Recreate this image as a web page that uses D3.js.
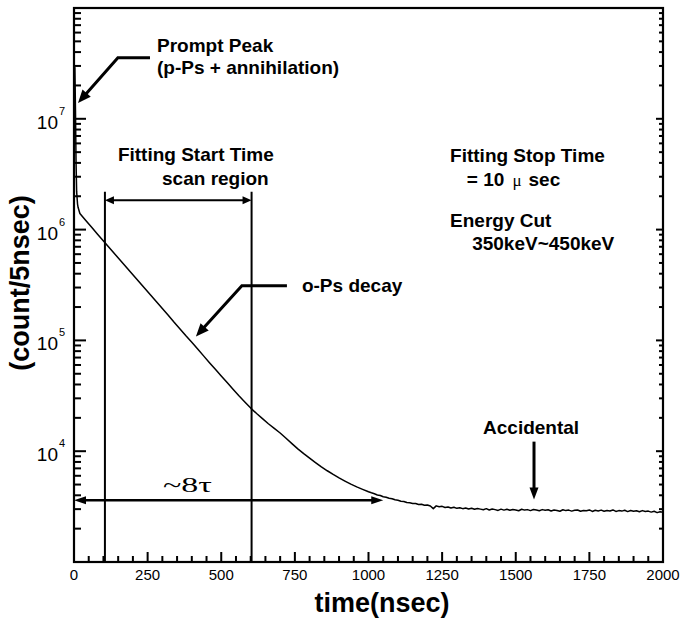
<!DOCTYPE html>
<html>
<head>
<meta charset="utf-8">
<script src="https://cdn.jsdelivr.net/npm/d3@7"></script>
<style>
  body { margin: 0; background: #fff; }
  svg { display: block; font-family: "Liberation Sans", Arial, Helvetica, sans-serif; }
</style>
</head>
<body>
<div id="chart"></div>
<script>
// prompt peak (time ns, count/5nsec)
var promptTimes = [0, 1, 3, 5, 7, 9, 12, 14];
var promptCounts = [1.5e6, 8e6, 2.9e7, 1.2e7, 4e6, 2.2e6, 1.7e6, 1.58e6];

// o-Ps decay, one reading every 20 ns from 20 to 980 ns
var decayStart = 20, decayStep = 20;
var decayCounts = [
  1400000, 1210000, 1050000, 910000, 790000, 685000, 595000, 518000, 450000, 392000,
  340000, 295000, 257000, 223000, 194000, 169000, 146000, 127000, 110000, 96000,
  83500, 72500, 63000, 54800, 47800, 41600, 36200, 31600, 27800, 24500,
  21900, 19700, 17700, 16100, 14600, 13100, 11700, 10500, 9500, 8650,
  7900, 7230, 6660, 6170, 5740, 5370, 5040, 4760, 4520
];

// flattening into the accidental level, one reading every 10 ns from 1000 to 2000 ns
var tailStart = 1000, tailStep = 10;
var tailCounts = [
  4300, 4210, 4130, 4030, 3980, 3880, 3840, 3760, 3720, 3640,
  3610, 3540, 3520, 3440, 3430, 3380, 3370, 3300, 3320, 3250,
  3270, 3200, 3030, 3210, 3150, 3180, 3100, 3140, 3070, 3120,
  3050, 3090, 3030, 3070, 3010, 3060, 2990, 3040, 3000, 2960,
  3030, 2950, 3010, 2970, 2920, 3000, 2940, 2990, 2930, 2980,
  2950, 2900, 2990, 2940, 2970, 2910, 2980, 2950, 2900, 2970,
  2930, 2960, 2890, 2950, 2920, 2870, 2960, 2910, 2940, 2880,
  2930, 2950, 2870, 2920, 2900, 2950, 2860, 2930, 2890, 2940,
  2870, 2920, 2890, 2950, 2860, 2910, 2880, 2930, 2850, 2920,
  2870, 2900, 2840, 2910, 2860, 2880, 2820, 2870, 2790, 2840,
  2810
];

var xTicks = [0, 250, 500, 750, 1000, 1250, 1500, 1750, 2000];
var xMinorTicks = [50, 100, 150, 200, 300, 350, 400, 450, 550, 600, 650, 700, 800, 850, 900, 950,
  1050, 1100, 1150, 1200, 1300, 1350, 1400, 1450, 1550, 1600, 1650, 1700, 1800, 1850, 1900, 1950];
var yLabelTicks = [1e4, 1e5, 1e6, 1e7];

// annotation geometry in data units (ns, counts)
var scanRegion = [105, 603];
var scanLineTop = 2.2e6;
var scanArrowLevel = 1.84e6;
var eightTau = [0, 1050];
var eightTauLevel = 3610;
var promptLeader = [[258, 3.55e7], [149, 3.55e7], [13.6, 1.39e7]];
var decayLeader = [[723, 3.12e5], [570, 3.12e5], [414, 1.085e5]];
var accidentalArrow = [[1562, 1.22e4], [1562, 3660]];

var margin = { top: 8, right: 20, bottom: 58, left: 74 },
    plotW = 683 - margin.left - margin.right,
    plotH = 620 - margin.top - margin.bottom;

var svg = d3.select("#chart").append("svg")
    .attr("width", 683)
    .attr("height", 620);

var g = svg.append("g")
    .attr("transform", `translate(${margin.left},${margin.top})`);

var x = d3.scaleLinear().domain([0, 2000]).range([0, plotW]);
var y = d3.scaleLog().domain([1e3, 1e8]).range([plotH, 0]);

// series
var data = [];
promptTimes.forEach(function (t, i) { data.push([t, promptCounts[i]]); });
decayCounts.forEach(function (v, i) { data.push([decayStart + i * decayStep, v]); });
tailCounts.forEach(function (v, i) { data.push([tailStart + i * tailStep, v]); });

svg.append("defs").append("clipPath").attr("id", "plotclip")
  .append("rect").attr("width", plotW).attr("height", plotH);

xTicks.forEach(function (t) {
  g.append("text")
      .attr("x", x(t))
      .attr("y", plotH + 18)
      .attr("text-anchor", "middle")
      .attr("font-size", 15)
      .text(t);
});

yLabelTicks.forEach(function (v) {
  g.append("text")
      .attr("x", -16)
      .attr("y", y(v) + 10)
      .attr("text-anchor", "end")
      .attr("font-size", 19)
      .text("10");
  g.append("text")
      .attr("x", -15)
      .attr("y", y(v) - 4)
      .attr("font-size", 11)
      .text(Math.round(Math.log10(v)));
});

// the spectrum
var line = d3.line()
    .x(function (d) { return x(d[0]); })
    .y(function (d) { return y(d[1]); });

g.append("path")
    .datum(data)
    .attr("clip-path", "url(#plotclip)")
    .attr("fill", "none")
    .attr("stroke", "#000")
    .attr("stroke-width", 1.5)
    .attr("stroke-linejoin", "round")
    .attr("d", line);

// arrow helpers
function head(p0, p1, len, half) {
  var dx = p1[0] - p0[0], dy = p1[1] - p0[1], d = Math.hypot(dx, dy);
  var ux = dx / d, uy = dy / d;
  var bx = p1[0] - ux * len, by = p1[1] - uy * len;
  g.append("path")
      .attr("d", `M${p1[0]},${p1[1]}L${bx - uy * half},${by + ux * half}L${bx + uy * half},${by - ux * half}Z`)
      .attr("fill", "#000");
  return [bx + ux * 1, by + uy * 1];
}

function arrow(pts, opts) {
  var p = pts.map(function (d) { return [x(d[0]), y(d[1])]; });
  var n = p.length;
  p[n - 1] = head(p[n - 2], p[n - 1], opts.len, opts.half);
  if (opts.both) p[0] = head(p[1], p[0], opts.len, opts.half);
  g.append("path")
      .attr("d", d3.line()(p))
      .attr("fill", "none")
      .attr("stroke", "#000")
      .attr("stroke-width", opts.w)
      .attr("stroke-linejoin", "miter");
}

// scan region
scanRegion.forEach(function (t) {
  g.append("line")
      .attr("x1", x(t)).attr("x2", x(t))
      .attr("y1", y(scanLineTop)).attr("y2", y(1e3))
      .attr("stroke", "#000")
      .attr("stroke-width", 2);
});
arrow([[scanRegion[0], scanArrowLevel], [scanRegion[1], scanArrowLevel]], { len: 9, half: 4, w: 2, both: true });
arrow([[eightTau[0], eightTauLevel], [eightTau[1], eightTauLevel]], { len: 12, half: 4, w: 2.5, both: true });
arrow(promptLeader, { len: 13, half: 5.5, w: 3 });
arrow(decayLeader, { len: 13, half: 5.5, w: 3 });
arrow(accidentalArrow, { len: 12, half: 4.5, w: 3 });

// annotation text
function label(t, v, str, size) {
  return g.append("text")
      .attr("x", x(t))
      .attr("y", y(v))
      .attr("font-size", size || 19)
      .attr("font-weight", "bold")
      .text(str);
}
label(282, 4.02e7, "Prompt Peak");
label(282, 2.55e7, "(p-Ps + annihilation)");
label(149, 4.12e6, "Fitting Start Time");
label(299, 2.55e6, "scan region");
label(774, 2.76e5, "o-Ps decay");
label(1277, 4.04e6, "Fitting Stop Time");
var mu = label(1334, 2.45e6, "= 10");
mu.append("tspan").attr("dx", 8).attr("font-family", "Liberation Serif, Times New Roman, serif").attr("font-weight", "normal").attr("font-size", 17).text("\u03bc");
mu.append("tspan").attr("dx", 7).text("sec");
label(1277, 1.045e6, "Energy Cut");
label(1352, 6.61e5, "350keV~450keV");
label(1389, 1.415e4, "Accidental");

g.append("text")
    .attr("x", x(302))
    .attr("y", y(4240))
    .attr("font-family", "Liberation Serif, Times New Roman, serif")
    .attr("font-size", 22)
    .attr("textLength", 49)
    .attr("lengthAdjust", "spacingAndGlyphs")
    .text("~8\u03c4");

// inward ticks on bottom, left and right
function tickRect(x0, y0, w, h) {
  g.append("rect")
      .attr("x", x0).attr("y", y0)
      .attr("width", w).attr("height", h)
      .attr("fill", "#000");
}
xTicks.forEach(function (t) { tickRect(x(t) - 1, plotH - 10, 2, 10); });
xMinorTicks.forEach(function (t) { tickRect(x(t) - 1, plotH - 6, 2, 6); });
y.ticks().forEach(function (v) {
  var e = Math.log10(v);
  var major = Math.abs(e - Math.round(e)) < 1e-6;
  tickRect(0, y(v) - 1, major ? 12 : 7, 2);
  tickRect(plotW - (major ? 7 : 4), y(v) - 1, major ? 7 : 4, 2);
});

g.append("rect")
    .attr("width", plotW)
    .attr("height", plotH)
    .attr("fill", "none")
    .attr("stroke", "#000")
    .attr("stroke-width", 2.2);

// axis titles
svg.append("text")
    .attr("x", 382)
    .attr("y", 612)
    .attr("text-anchor", "middle")
    .attr("font-size", 27)
    .attr("font-weight", "bold")
    .text("time(nsec)");

svg.append("text")
    .attr("transform", "translate(29,283) rotate(-90)")
    .attr("text-anchor", "middle")
    .attr("font-size", 27)
    .attr("font-weight", "bold")
    .text("(count/5nsec)");
</script>
</body>
</html>
